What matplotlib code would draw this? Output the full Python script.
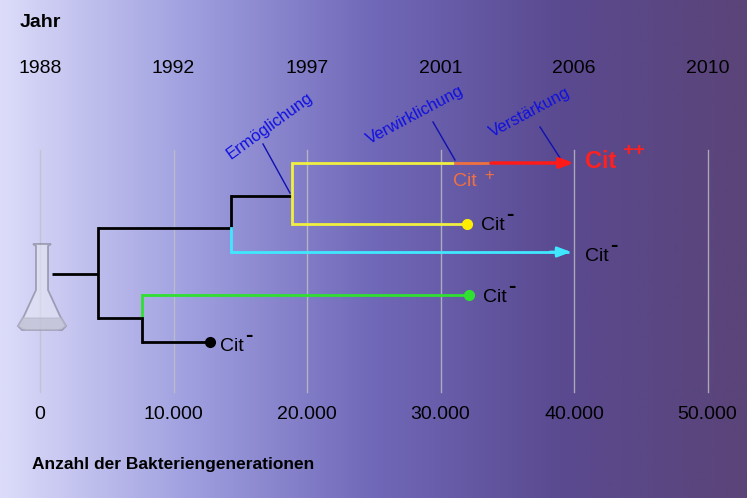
import matplotlib.pyplot as plt
import numpy as np
from matplotlib.colors import LinearSegmentedColormap

# axis ticks
gen_ticks = [0, 10000, 20000, 30000, 40000, 50000]
gen_labels = ["0", "10.000", "20.000", "30.000", "40.000", "50.000"]
year_labels = ["1988", "1992", "1997", "2001", "2006", "2010"]

# tree segments: (x0, x1, y, colour) horizontal, y in row units (pixel rows)
h_segments = [
    (900, 4350, 274, "black"),
    (4350, 14300, 228, "black"),
    (14300, 18900, 196, "black"),
    (18900, 31000, 163, "#f0f040"),
    (31000, 33600, 163, "#f07040"),
    (18900, 32000, 224, "#f0f040"),
    (14300, 39600, 252, "#40e8ff"),
    (4350, 7650, 318, "black"),
    (7650, 32100, 295, "#30e030"),
    (7650, 12700, 342, "black"),
]
v_segments = [
    (4350, 228, 318, "black"),
    (14300, 196, 228, "black"),
    (14300, 228, 252, "#40e8ff"),
    (18900, 163, 224, "#f0f040"),
    (7650, 295, 318, "#30e030"),
    (7650, 318, 342, "black"),
]
dots = [(32000, 224, "#ffee00"), (32100, 295, "#30e030"), (12700, 342, "black")]

px = 0.01335  # pixels per generation
def g(p):
    return (p - 40) / px

fig = plt.figure(figsize=(7.47, 4.98), dpi=100)
ax = fig.add_axes([0, 0, 1, 1])
ax.set_xlim(g(0), g(747))
ax.set_ylim(498, 0)
ax.axis("off")

cmap = LinearSegmentedColormap.from_list("bg", ["#dcdcfa", "#a0a0e0", "#7068b8", "#5a4a90", "#5a4478"])
grad = np.linspace(0, 1, 256).reshape(1, -1)
ax.imshow(grad, aspect="auto", cmap=cmap, extent=[g(0), g(747), 498, 0], zorder=0)

fam = "Liberation Sans"
for t, gl, yl in zip(gen_ticks, gen_labels, year_labels):
    ax.plot([t, t], [150, 392], color="#c0c0c8", lw=1, alpha=0.8, zorder=1)
    ax.text(t, 414, gl, ha="center", va="center", fontsize=14, family=fam)
    ax.text(t, 68, yl, ha="center", va="center", fontsize=14, family=fam)

ax.text(g(20), 22, "Jahr", fontsize=14, fontweight="bold", family=fam, va="center")
ax.text(g(32), 464, "Anzahl der Bakteriengenerationen", fontsize=12.5, fontweight="bold",
        family=fam, va="center")

for x0, x1, y, c in h_segments:
    ax.plot([x0, x1], [y, y], color=c, lw=2, zorder=3, solid_capstyle="butt")
for x, y0, y1, c in v_segments:
    ax.plot([x, x], [y0, y1], color=c, lw=2, zorder=3)
for x, y, c in dots:
    ax.plot(x, y, "o", color=c, ms=7, zorder=4)

ax.annotate("", xy=(40200, 163), xytext=(33600, 163),
            arrowprops=dict(arrowstyle="-|>,head_length=0.8,head_width=0.3", color="#ff1a1a", lw=2.5), zorder=4)
ax.annotate("", xy=(40000, 252), xytext=(38000, 252),
            arrowprops=dict(arrowstyle="-|>,head_length=0.8,head_width=0.3", color="#40e8ff", lw=2), zorder=4)

# labels
ax.text(g(585), 161, "Cit", color="#ff2020", fontsize=17, fontweight="bold", va="center", family=fam)
ax.text(g(622), 150, "++", color="#ff2020", fontsize=14, fontweight="bold", va="center", family=fam)
ax.text(g(453), 181, "Cit", color="#f07040", fontsize=14, va="center", family=fam)
ax.text(g(484), 175, "+", color="#f07040", fontsize=12, va="center", family=fam)
for xp, y in [(481, 225), (585, 256), (483, 297), (220, 346)]:
    ax.text(g(xp), y, "Cit", color="black", fontsize=14, va="center", family=fam)
    ax.text(g(xp + 25), y - 11, "-", color="black", fontsize=16, fontweight="bold", va="center", family=fam)

lab = dict(color="#1010e0", fontsize=12, family=fam, ha="center", va="center", rotation_mode="anchor")
ax.text(g(270), 126, "Ermöglichung", rotation=36, **lab)
ax.text(g(415), 115, "Verwirklichung", rotation=28, **lab)
ax.text(g(530), 112, "Verstärkung", rotation=28, **lab)
for (x0, y0), (x1, y1) in [((263, 144), (290, 193)), ((433, 122), (455, 160)), ((540, 127), (560, 158))]:
    ax.plot([g(x0), g(x1)], [y0, y1], color="#1010b0", lw=1, zorder=3)

# flask
fx = [33, 36, 36, 24, 18, 22, 62, 66, 60, 48, 48, 51]
fy = [244, 246, 290, 316, 326, 330, 330, 326, 316, 290, 246, 244]
ax.fill([g(v) for v in fx], fy, color="#e8e8f4", alpha=0.55, ec="#707080", lw=1.3, zorder=2)
ax.fill([g(v) for v in [22, 62, 66, 58, 26, 18]], [318, 318, 326, 330, 330, 326], color="#b8b8cc", alpha=0.6, zorder=2)

fig.savefig("out.png", dpi=100)
